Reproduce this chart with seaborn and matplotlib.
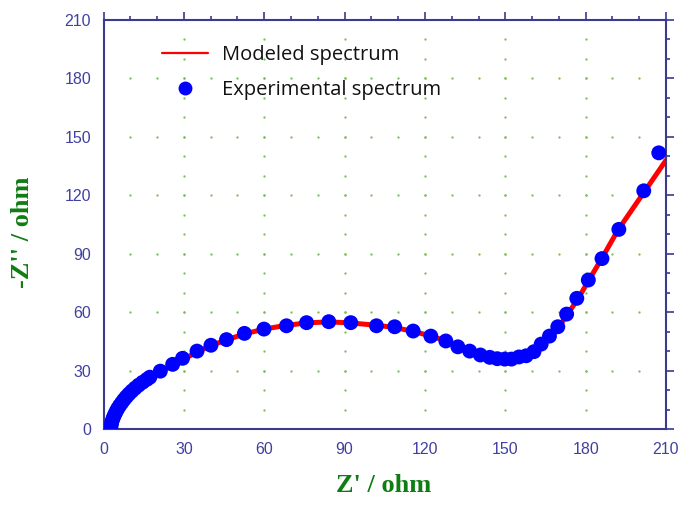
import numpy as np
import pandas as pd
import matplotlib
matplotlib.use("Agg")
import matplotlib.pyplot as plt
import seaborn as sns
from matplotlib.ticker import MultipleLocator
from matplotlib.lines import Line2D

# Experimental impedance spectrum (Nyquist): Z' and -Z'' in ohm
exp_zre = [2.6, 2.8, 3.0, 3.3, 3.7, 4.2, 4.7, 5.3, 6.0, 6.8, 7.6, 8.5, 9.5, 10.6,
           11.8, 13.1, 14.6, 16.2, 17.3, 21.2, 25.8, 29.5, 34.9, 40.1, 45.9, 52.6,
           59.9, 68.3, 75.8, 84.1, 92.3, 101.9, 108.7, 115.6, 122.2, 127.8, 132.3,
           136.7, 140.7, 144.2, 147.0, 149.8, 152.3, 155.1, 157.8, 160.7, 163.4,
           166.5, 169.6, 172.9, 176.7, 181.0, 186.1, 192.4, 201.7, 207.3]
exp_zim = [0.3, 1.5, 3.0, 4.5, 6.0, 7.5, 9.0, 10.5, 12.0, 13.5, 15.0, 16.5, 18.0, 19.5,
           21.0, 22.5, 24.0, 25.5, 26.6, 29.7, 33.2, 36.3, 40.0, 43.0, 45.9, 49.1,
           51.3, 53.0, 54.6, 55.1, 54.6, 53.0, 52.5, 50.3, 47.7, 45.2, 42.2,
           40.0, 38.0, 36.8, 36.1, 35.9, 35.9, 37.0, 37.6, 39.7, 43.6,
           47.7, 52.5, 59.0, 67.1, 76.5, 87.5, 102.5, 122.3, 141.8]

# Fitted equivalent-circuit model
mod_zre = [3, 4, 5, 6, 8, 10, 13, 17, 21, 26, 30, 35, 40, 46, 53, 60, 68, 76, 84,
           92, 100, 108, 116, 122, 128, 133, 138, 142, 146, 150, 154, 158, 162,
           166, 170, 173, 177, 181, 186, 192, 202, 210]
mod_zim = [0.0, 4.0, 7.5, 10.0, 13.5, 16.5, 20.5, 25.0, 29.0, 33.0, 36.0, 39.5,
           42.8, 45.8, 49.0, 51.3, 53.2, 54.5, 55.0, 54.5, 53.5, 52.3, 50.0, 47.8,
           45.2, 42.3, 39.6, 37.8, 36.6, 36.0, 36.3, 37.6, 40.5, 46.0, 52.5, 58.5,
           66.5, 76.0, 87.5, 102.0, 122.0, 138.0]

x_ticks = [0, 30, 60, 90, 120, 150, 180, 210]
y_ticks = [0, 30, 60, 90, 120, 150, 180, 210]

exp_df = pd.DataFrame({"zre": exp_zre, "zim": exp_zim})
mod_df = pd.DataFrame({"zre": mod_zre, "zim": mod_zim})

sns.set_style("white")
plt.rcParams["font.family"] = ["Liberation Sans", "DejaVu Sans"]

fig = plt.figure(figsize=(6.78, 5.12), dpi=100)
ax = fig.add_axes([0.1527, 0.1621, 0.8296, 0.7988])

axis_col = "#3a3a8e"
tick_col = "#4040a2"
label_col = "#0e7d12"

# dotted grid: dots every 10 ohm along each major grid line
grid_x, grid_y = [], []
for gx in x_ticks[1:-1]:
    for gy in np.arange(10, 210, 10):
        grid_x.append(gx); grid_y.append(gy)
for gy in y_ticks[1:-1]:
    for gx in np.arange(10, 210, 10):
        grid_x.append(gx); grid_y.append(gy)
ax.scatter(grid_x, grid_y, s=2.8, color="#7cc05a", linewidths=0, zorder=1)

sns.lineplot(data=mod_df, x="zre", y="zim", sort=False, color="#ff0000",
             linewidth=3.6, ax=ax, zorder=2)
sns.scatterplot(data=exp_df, x="zre", y="zim", color="#0000ff", s=115,
                edgecolor="none", linewidth=0, ax=ax, zorder=3)

ax.set_xlim(0, 210)
ax.set_ylim(0, 210)
ax.set_xticks(x_ticks)
ax.set_yticks(y_ticks)
ax.xaxis.set_minor_locator(MultipleLocator(10))
ax.yaxis.set_minor_locator(MultipleLocator(10))
ax.tick_params(which="both", direction="out", top=True, right=True,
               color=axis_col, width=1.2)
ax.tick_params(which="major", length=6, labelsize=11.5, labelcolor=tick_col, pad=3)
ax.tick_params(which="minor", length=3)
for sp in ax.spines.values():
    sp.set_color(axis_col)
    sp.set_linewidth(1.5)

ax.set_xlabel("")
ax.set_ylabel("")
fig.text(0.566, 0.052, "Z' / ohm", ha="center", va="center", color=label_col,
         fontsize=19, fontweight="bold", family=["Liberation Serif"])
fig.text(0.033, 0.547, "-Z'' / ohm", ha="center", va="center", rotation=90,
         color=label_col, fontsize=19, fontweight="bold",
         family=["Liberation Serif"])

handles = [Line2D([], [], color="#ff0000", linewidth=1.6),
           Line2D([], [], color="#0000ff", marker="o", linestyle="none",
                  markersize=10, markeredgewidth=0)]
ax.legend(handles, ["Modeled spectrum", "Experimental spectrum"],
          loc="upper left", bbox_to_anchor=(0.212, 0.948),
          bbox_transform=fig.transFigure, frameon=False,
          prop={"family": "Open Sans", "size": 14.5}, labelcolor="#111111",
          handlelength=2.3, handletextpad=0.7, labelspacing=0.75)

fig.savefig("out.png", dpi=100)
